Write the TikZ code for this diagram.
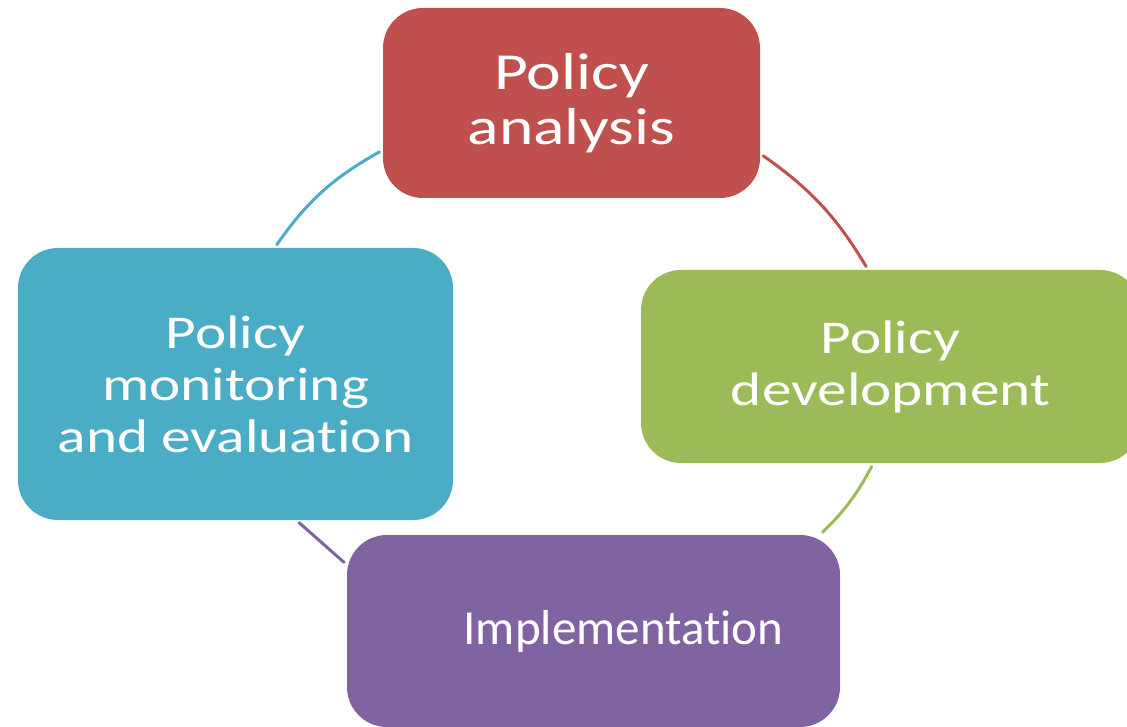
\documentclass[tikz,border=0pt]{standalone}
\usepackage{fontspec}
\setmainfont{Carlito}[Ligatures=NoCommon]
\newfontfamily\widefont[FakeStretch=1.26, Ligatures=NoCommon]{Carlito}
\usetikzlibrary{positioning}
\definecolor{cred}{HTML}{C0504D}
\definecolor{cgreen}{HTML}{9BBB59}
\definecolor{cpurple}{HTML}{8064A2}
\definecolor{cblue}{HTML}{4BACC6}

\begin{document}
\begin{tikzpicture}[x=1pt, y=1pt,
  stage/.style={rectangle, rounded corners=40pt, text=white, align=center,
                inner sep=0pt, outer sep=0pt},
  loopline/.style={line width=3pt, line cap=round, bend left=12,
                   shorten <=4pt, shorten >=4pt}]
  \useasboundingbox (0,0) rectangle (1127,-727);
  % the four stages of the cycle
  \node[stage, fill=cred, minimum width=377pt, minimum height=190pt,
        font=\widefont\fontsize{52}{55}\selectfont] (pa) at (571.5,-103) {Policy\\analysis};
  \node[stage, fill=cgreen, minimum width=499pt, minimum height=193pt,
        font=\widefont\fontsize{47}{52}\selectfont] (pd) at (890.5,-366.5) {Policy\\development};
  \node[stage, fill=cpurple, minimum width=493pt, minimum height=192pt,
        font=\fontsize{49}{52}\selectfont] (im) at (593.5,-631) {\hspace*{60pt}Implementation};
  \node[stage, fill=cblue, minimum width=435pt, minimum height=272pt,
        font=\widefont\fontsize{47}{52}\selectfont] (pm) at (235.5,-384) {Policy\\monitoring\\and evaluation};
  % connecting arcs
  \draw[loopline, cred] (pa.-15) to (pd.103);
  \draw[loopline, cgreen, bend left=9] (pd.260) to (im.23);
  \draw[loopline, cpurple] (im.165) -- (pm.-66);
  \draw[loopline, cblue, bend left=13] (pm.74) to (pa.194);
\end{tikzpicture}
\end{document}
